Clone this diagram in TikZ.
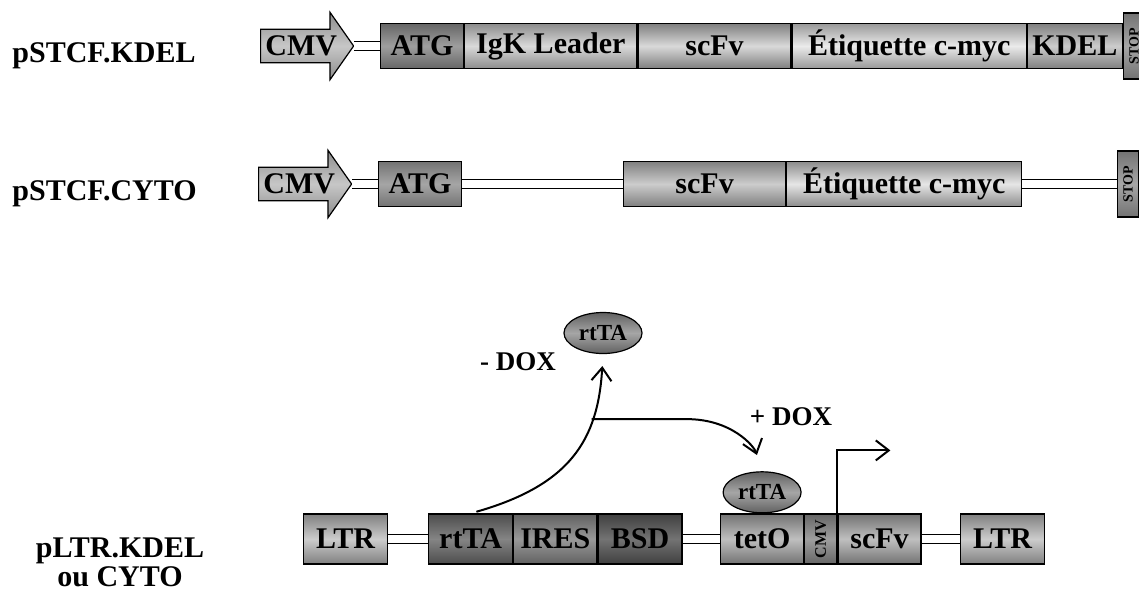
\documentclass[tikz,border=0pt]{standalone}
\usepackage{fontspec}
\setmainfont{Liberation Serif}
\usetikzlibrary{arrows.meta,positioning,shapes.arrows,shapes.geometric}

\begin{document}
\begin{tikzpicture}[x=.5pt,y=-.5pt,>={Straight Barb[length=6.5pt,width=10pt]},
  font=\bfseries\fontsize{15}{17}\selectfont,
  gr/.style 2 args={top color=black!#1,bottom color=black!#1,middle color=black!#2},
  seg/.style={draw,line width=.6pt,inner sep=0pt,anchor=west,minimum height=22.5pt},
  segc/.style={seg,minimum height=25pt},
  tall/.style={draw,line width=.6pt,inner sep=0pt,rotate=90,anchor=north,
    font=\bfseries\fontsize{8}{9}\selectfont},
  prom/.style={draw,line width=.6pt,single arrow,single arrow head extend=8.5pt,
    single arrow tip angle=110,minimum height=46.5pt,inner xsep=1pt,inner ysep=3pt,
    anchor=tail,gr={45}{22}},
  prot/.style={draw,line width=.6pt,ellipse,inner sep=0pt,minimum width=39pt,
    minimum height=20.5pt,gr={62}{35},font=\bfseries\fontsize{11.5}{13}\selectfont},
  dbl/.style={line width=.6pt,double=white,double distance=4pt},
  sig/.style={->,line width=1pt},
  dox/.style={font=\bfseries\fontsize{13.5}{15}\selectfont}]
  \useasboundingbox (0,0) rectangle (1139,590);

  % pSTCF.KDEL
  \node[anchor=base west,inner sep=0pt] (nameA) at (12,62) {pSTCF.KDEL};
  \node[prom] (cmvA) at (260,46) {CMV};
  \node[seg,gr={60}{38},minimum width=41.5pt] (atgA) at (380,46) {ATG};
  \node[seg,gr={45}{15},minimum width=86pt,right=0pt of atgA] (igk) {IgK Leader};
  \node[seg,gr={50}{15},minimum width=76.5pt,right=0pt of igk] (scfvA) {scFv};
  \node[seg,gr={40}{8},minimum width=117pt,right=0pt of scfvA] (etiqA) {Étiquette c-myc};
  \node[seg,gr={50}{20},minimum width=47.5pt,right=0pt of etiqA] (kdel) {KDEL};
  \node[tall,gr={55}{35},minimum width=33pt,minimum height=10.5pt,
    font=\bfseries\fontsize{7}{8}\selectfont] (stopA) at (kdel.east) {STOP};
  \draw[dbl] (cmvA.tip) -- (atgA.west);

  % pSTCF.CYTO
  \node[anchor=base west,inner sep=0pt] (nameB) at (12,200) {pSTCF.CYTO};
  \node[prom] (cmvB) at (258,184) {CMV};
  \node[seg,gr={55}{35},minimum width=41.5pt] (atgB) at (378,184) {ATG};
  \node[seg,gr={50}{20},minimum width=81pt] (scfvB) at (623,184) {scFv};
  \node[seg,gr={45}{10},minimum width=117.5pt,right=0pt of scfvB] (etiqB) {Étiquette c-myc};
  \node[tall,gr={55}{35},minimum width=33pt,minimum height=10.5pt,
    font=\bfseries\fontsize{7}{8}\selectfont] (stopB) at (1117,184) {STOP};
  \draw[dbl] (cmvB.tip) -- (atgB.west);
  \draw[dbl] (atgB.east) -- (scfvB.west);
  \draw[dbl] (etiqB.east) -- (stopB.north);

  % pLTR
  \node[align=center,font=\bfseries\fontsize{15}{14.5}\selectfont] (nameC) at (120,562) {pLTR.KDEL\\ou CYTO};
  \node[segc,gr={50}{20},minimum width=42pt] (ltrL) at (303,539) {LTR};
  \node[segc,gr={70}{48},minimum width=42pt] (rttaC) at (428,539) {rtTA};
  \node[segc,gr={62}{40},minimum width=41.5pt,right=0pt of rttaC] (ires) {IRES};
  \node[segc,gr={75}{55},minimum width=42pt,right=0pt of ires] (bsd) {BSD};
  \node[segc,gr={55}{25},minimum width=41.5pt] (teto) at (720,539) {tetO};
  \node[tall,gr={60}{38},minimum width=25pt,minimum height=16pt] (cmvC) at (teto.east) {CMV};
  \node[segc,gr={55}{25},minimum width=41.5pt] (scfvC) at (cmvC.south) {scFv};
  \node[segc,gr={50}{20},minimum width=42pt] (ltrR) at (960,539) {LTR};
  \draw[dbl] (ltrL.east) -- (rttaC.west);
  \draw[dbl] (bsd.east) -- (teto.west);
  \draw[dbl] (scfvC.east) -- (ltrR.west);

  \node[prot] (rttaA) at (603,333) {rtTA};
  \node[prot,above=0pt of teto] (rttaB) {rtTA};
  \node[dox] (minus) at (518,362) {- DOX};
  \node[dox] (plus) at (791,417) {+ DOX};
  \draw[sig,shorten <=3pt,shorten >=6pt] (rttaC.north) .. controls (570,485) and (598,440) .. (rttaA.south) coordinate[pos=.71] (fork);
  \draw[sig,shorten >=8.5pt] (fork) -- ++(95,0) .. controls +(45,0) and +(-8,-25) .. (rttaB.north);
  \draw[sig] (scfvC.north west) -- ++(0,-63) -- ++(53,0);
\end{tikzpicture}
\end{document}
